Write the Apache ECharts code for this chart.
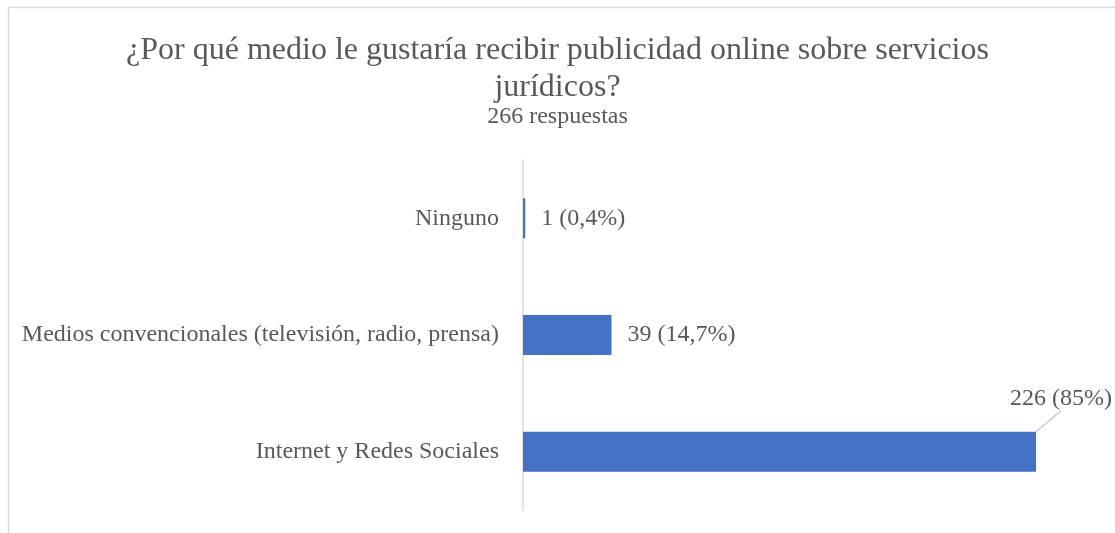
<!DOCTYPE html>
<html>
<head>
<meta charset="utf-8">
<script src="https://cdn.jsdelivr.net/npm/echarts@6/dist/echarts.min.js"></script>
<style>
  html, body { margin: 0; padding: 0; background: #ffffff; }
  #chart { width: 1115px; height: 533px; }
</style>
</head>
<body>
<div id="chart"></div>
<script>
// Survey answers, bottom to top as drawn on the category axis
const categories = ['Internet y Redes Sociales', 'Medios convencionales (televisión, radio, prensa)', 'Ninguno'];
const counts = [226, 39, 1];
const shares = ['85%', '14,7%', '0,4%'];
const titleText = '¿Por qué medio le gustaría recibir publicidad online sobre servicios\njurídicos?';
const subtitleText = '266 respuestas';

const serif = '"Liberation Serif", "Times New Roman", serif';
const textColor = '#595959';

const chart = echarts.init(document.getElementById('chart'), null, { renderer: 'canvas' });

// The longest bar gets its label lifted above it, tied back with a leader line
const barData = counts.map((v, i) => i === 0
  ? { value: v, labelLine: { show: true, lineStyle: { color: '#a6a6a6', width: 1 } } }
  : { value: v });

chart.setOption({
  backgroundColor: '#ffffff',
  animation: false,
  graphic: [{
    type: 'rect',
    left: 6, top: 5,
    shape: { width: 1130, height: 540 },
    style: { fill: 'none', stroke: '#d9d9d9', lineWidth: 1.5 },
    silent: true
  }],
  title: {
    text: titleText,
    subtext: subtitleText,
    left: 'center',
    top: 27,
    itemGap: 0,
    textStyle: { fontFamily: serif, fontSize: 32, fontWeight: 'normal', color: textColor, lineHeight: 37 },
    subtextStyle: { fontFamily: serif, fontSize: 24, color: textColor, lineHeight: 22 }
  },
  grid: { left: 523, right: 79, top: 160, bottom: 23, containLabel: false },
  xAxis: {
    type: 'value',
    min: 0,
    max: 226,
    show: false
  },
  yAxis: {
    type: 'category',
    data: categories,
    axisLine: { show: true, lineStyle: { color: '#d9d9d9', width: 1.5 } },
    axisTick: { show: false },
    axisLabel: { margin: 24, fontFamily: serif, fontSize: 24, color: textColor }
  },
  series: [{
    type: 'bar',
    data: barData,
    barWidth: 40,
    itemStyle: { color: '#4472c4' },
    label: {
      show: true,
      position: 'right',
      distance: 16,
      fontFamily: serif,
      fontSize: 24,
      color: textColor,
      formatter: (p) => p.value + ' (' + shares[p.dataIndex] + ')'
    },
    labelLayout: (p) => p.dataIndex === 0 ? { dx: -42, dy: -53 } : {}
  }]
});
</script>
</body>
</html>
